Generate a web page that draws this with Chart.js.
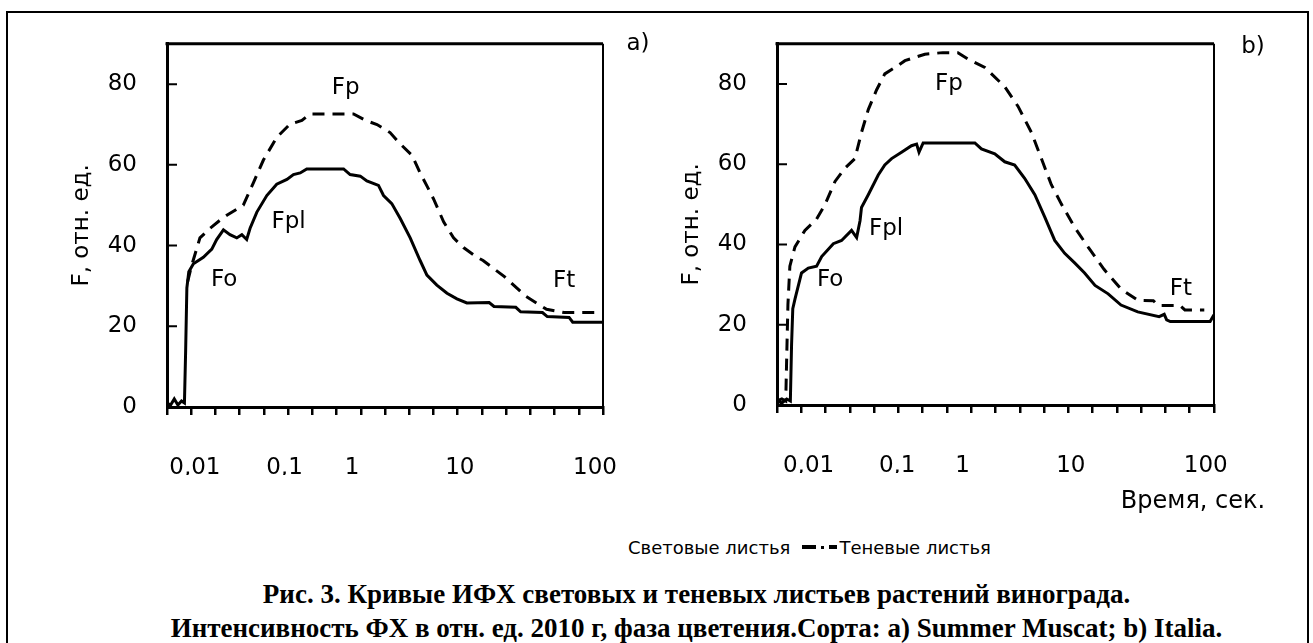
<!DOCTYPE html>
<html>
<head>
<meta charset="utf-8">
<script src="https://cdn.jsdelivr.net/npm/chart.js@4.4.0/dist/chart.umd.min.js"></script>
<style>
    body { margin: 0; background: #fff; width: 1313px; height: 643px; overflow: hidden; position: relative; font-family: "DejaVu Sans", sans-serif; color: #000; }
    #frame { position: absolute; left: 6px; top: 11px; width: 1299px; height: 700px; border: 2px solid #000; border-bottom: none; }
    #chartA { position: absolute; left: 0; top: 0; }
    #chartB { position: absolute; left: 650px; top: 0; }
    .tag { position: absolute; font-size: 23px; transform: translate(-50%, -50%); white-space: nowrap; }
    #legend { position: absolute; left: 628px; top: 533px; height: 28px; display: flex; align-items: center; font-size: 18px; white-space: nowrap; }
    #legend .bar { display: inline-block; height: 4px; background: #000; }
    #legend .dot { display: inline-block; width: 3px; height: 3px; background: #000; }
    #caption { position: absolute; left: 40px; top: 577px; width: 1313px; text-align: center; font: bold 27px "Liberation Serif", serif; line-height: 34px; white-space: nowrap; }
</style>
</head>
<body>
<div id="frame"></div>
<canvas id="chartA" width="650" height="520"></canvas>
<canvas id="chartB" width="663" height="520"></canvas>
<div class="tag" style="left:638px; top:42px;">a)</div>
<div class="tag" style="left:1253px; top:45px;">b)</div>
<div class="tag" style="left:1193px; top:500px; font-size:24px;">Время, сек.</div>
<div id="legend">
    <span>Световые листья</span>
    <span class="bar" style="width:14px; margin-left:12px;"></span>
    <span class="dot" style="margin-left:5px;"></span>
    <span class="bar" style="width:8px; margin-left:5px;"></span>
    <span style="margin-left:2px;">Теневые листья</span>
</div>
<div id="caption">Рис. 3. Кривые ИФХ световых и теневых листьев растений винограда.<br>Интенсивность ФХ в отн. ед. 2010 г, фаза цветения.Сорта: а) Summer Muscat; b) Italia.</div>

<script>
// x is measured in category steps of the original chart (19 tick marks, 0..18)
const xTickLabels = ['0,01', '0,1', '1', '10', '100'];
const xLabelPosA = [1.15, 4.85, 7.64, 12.09, 17.67];
const xLabelPosB = [1.3, 4.95, 7.64, 12.1, 17.66];
const yTicks = [0, 20, 40, 60, 80];

// a) Summer Muscat
const lightAX = [0, 0.15, 0.3, 0.45, 0.6, 0.72, 0.77, 0.82, 0.9, 1.09, 1.5, 1.85, 2.05, 2.33, 2.6, 2.88, 3.09, 3.29, 3.43, 3.71,
    4.12, 4.53, 4.95, 5.22, 5.5, 5.77, 7.29, 7.56, 7.98, 8.25, 8.73, 8.94, 9.28, 9.63, 10.04, 10.45, 10.73, 11.14, 11.56, 11.97,
    12.38, 13.3, 13.5, 14.4, 14.6, 15.5, 15.7, 16.6, 16.75, 18];
const lightAY = [1, 0.5, 2, 0.5, 1.5, 1, 14, 29.5, 33.5, 35.5, 37.1, 39.1, 41.5, 43.9, 42.7, 41.9, 42.7, 41.5, 44.3, 48.3,
    52.4, 55.2, 56.4, 57.6, 58, 59, 59, 57.6, 57.2, 56, 54.9, 52.4, 50.4, 46.7, 41.9, 36.3, 32.7, 30.2, 28.2, 26.8,
    25.8, 25.9, 24.9, 24.7, 23.6, 23.4, 22.4, 22.2, 21, 21];
const shadeAX = [0.85, 1.02, 1.36, 1.78, 2.19, 2.47, 3.15, 3.57, 3.98, 4.53, 5.08, 5.57, 5.9, 7.7, 8.25, 8.67, 9.21, 9.63, 10.11, 10.45,
    10.73, 11.0, 11.42, 11.83, 12.24, 12.8, 13.05, 13.93, 14.8, 15.67, 16.4, 18];
const shadeAY = [31, 35.1, 41.9, 44.3, 46.3, 47.5, 50, 55.6, 61.2, 66.8, 70.1, 71, 72.6, 72.6, 70.9, 70, 68, 65.2, 62.4, 58,
    54.8, 51.6, 45.9, 41.9, 39.5, 37.1, 36.3, 32.3, 27.5, 24.2, 23.4, 23.4];

// b) Italia
const lightBX = [0, 0.2, 0.4, 0.55, 0.6, 0.65, 0.74, 1.01, 1.29, 1.63, 1.84, 2.32, 2.66, 3.07, 3.28, 3.42, 3.48, 3.76, 4.17, 4.44,
    4.72, 5.13, 5.54, 5.75, 5.85, 6.02, 8.15, 8.42, 8.97, 9.38, 9.79, 10.2, 10.62, 11.03, 11.44, 11.85, 12.26, 12.67, 13.1, 13.64,
    14.17, 14.86, 15.74, 15.95, 16.05, 16.2, 17.84, 18];
const lightBY = [1, 0.5, 1.5, 1, 15, 24, 26.4, 32.9, 34.1, 34.6, 37, 40.2, 41, 43.5, 41.7, 45.9, 49.2, 52.4, 57.3, 59.8,
    61.4, 63, 64.6, 65, 63, 65.3, 65.3, 63.8, 62.6, 60.6, 59.8, 56.5, 52.4, 46.8, 41, 37.8, 35.4, 32.9, 29.8, 27.7,
    24.9, 23.2, 22, 22.6, 21.2, 20.8, 20.8, 22.5];
const shadeBX = [0, 0.2, 0.36, 0.4, 0.45, 0.53, 0.74, 1.15, 1.63, 1.98, 2.39, 2.8, 3.21, 3.48, 3.76, 4.1, 4.44, 4.86, 5.27, 5.68,
    6.09, 6.83, 7.45, 7.87, 8.56, 9.38, 9.93, 10.48, 10.89, 11.3, 11.72, 12.26, 12.81, 13.47, 14.17, 14.86, 15.5, 15.7, 16.6, 16.8, 17.6];
const shadeBY = [1, 1.5, 1, 12, 25, 34.6, 39.4, 43.5, 46.3, 50, 55.7, 59, 61.4, 67.9, 73.6, 78.5, 82.5, 84.1, 85.8, 86.6,
    87.4, 87.8, 87.8, 86.2, 84.1, 79.3, 74.4, 67.9, 61.4, 54.9, 50, 44.3, 39.4, 33.8, 28.9, 26.1, 26, 24.8, 24.8, 23.7, 23.7];

// curve labels inside the plots
const notesText = ['Fp', 'Fpl', 'Fo', 'Ft'];
const notesAX = [7.38, 5.02, 2.36, 16.4];
const notesAY = [79, 45.9, 31.4, 31.1];
const notesBX = [7.08, 4.49, 2.19, 16.64];
const notesBY = [80, 43.9, 31.2, 28.8];

const FONT = '"DejaVu Sans", sans-serif';
const FONT_SIZE = 23;

function toPoints(xs, ys) {
    return xs.map((x, i) => ({ x: x, y: ys[i] }));
}

// box around the plot, inward y ticks and the Fo/Fpl/Fp/Ft labels
const framePlugin = {
    id: 'frame',
    afterDraw(chart, args, opts) {
        const { ctx, chartArea: a, scales } = chart;
        ctx.save();
        ctx.strokeStyle = '#000';
        ctx.lineWidth = 3;
        ctx.beginPath();
        ctx.moveTo(a.left - 1.5, a.top);
        ctx.lineTo(a.right, a.top);
        ctx.stroke();
        ctx.lineWidth = 2;
        ctx.beginPath();
        ctx.moveTo(a.right, a.top);
        ctx.lineTo(a.right, a.bottom);
        ctx.stroke();
        ctx.beginPath();
        yTicks.forEach(v => {
            const y = scales.y.getPixelForValue(v);
            ctx.moveTo(a.left, y);
            ctx.lineTo(a.left + 10, y);
        });
        ctx.stroke();
        ctx.fillStyle = '#000';
        ctx.font = FONT_SIZE + 'px ' + FONT;
        ctx.textAlign = 'center';
        ctx.textBaseline = 'middle';
        opts.texts.forEach((t, i) => {
            ctx.fillText(t, scales.x.getPixelForValue(opts.xs[i]), scales.y.getPixelForValue(opts.ys[i]));
        });
        ctx.restore();
    }
};

function makeChart(id, cfg) {
    const ctx = document.getElementById(id).getContext('2d');
    return new Chart(ctx, {
        type: 'line',
        data: {
            datasets: [{
                label: 'Световые листья',
                data: toPoints(cfg.lightX, cfg.lightY),
                borderColor: '#000',
                borderWidth: 3,
                pointRadius: 0,
                tension: 0,
                fill: false
            }, {
                label: 'Теневые листья',
                data: toPoints(cfg.shadeX, cfg.shadeY),
                borderColor: '#000',
                borderWidth: 3,
                borderDash: [12, 8],
                pointRadius: 0,
                tension: 0,
                fill: false
            }]
        },
        options: {
            responsive: false,
            animation: false,
            devicePixelRatio: 1,
            events: [],
            layout: { padding: cfg.padding },
            scales: {
                x: {
                    type: 'linear',
                    position: 'bottom',
                    min: 0,
                    max: 18,
                    afterBuildTicks: s => { s.ticks = Array.from({ length: 19 }, (_, i) => ({ value: i })); },
                    afterFit: s => { s.height = 8; },
                    ticks: { display: false },
                    grid: { drawOnChartArea: false, drawTicks: true, tickLength: 8, lineWidth: 2.5, color: '#000' },
                    border: { display: true, color: '#000', width: 3 }
                },
                xl: {
                    type: 'linear',
                    position: 'bottom',
                    min: 0,
                    max: 18,
                    afterBuildTicks: s => { s.ticks = cfg.labelPos.map(v => ({ value: v })); },
                    afterFit: s => { s.height = 60; },
                    ticks: {
                        autoSkip: false,
                        maxRotation: 0,
                        padding: 31,
                        color: '#000',
                        font: { family: FONT, size: FONT_SIZE },
                        callback: (v, i) => xTickLabels[i]
                    },
                    grid: { display: false },
                    border: { display: false }
                },
                y: {
                    min: 0,
                    max: 90,
                    afterBuildTicks: s => { s.ticks = yTicks.map(v => ({ value: v })); },
                    afterFit: s => { s.width = 99; },
                    ticks: { padding: 30, color: '#000', font: { family: FONT, size: FONT_SIZE } },
                    grid: { drawOnChartArea: false, drawTicks: false },
                    border: { display: true, color: '#000', width: 3 },
                    title: {
                        display: true,
                        text: 'F, отн. ед.',
                        color: '#000',
                        padding: 0,
                        font: { family: FONT, size: FONT_SIZE }
                    }
                }
            },
            plugins: {
                legend: { display: false },
                tooltip: { enabled: false },
                frame: { texts: notesText, xs: cfg.notesX, ys: cfg.notesY }
            }
        },
        plugins: [framePlugin]
    });
}

makeChart('chartA', {
    lightX: lightAX, lightY: lightAY, shadeX: shadeAX, shadeY: shadeAY,
    labelPos: xLabelPosA, notesX: notesAX, notesY: notesAY,
    padding: { left: 68, top: 34, right: 47, bottom: 45 }
});

makeChart('chartB', {
    lightX: lightBX, lightY: lightBY, shadeX: shadeBX, shadeY: shadeBY,
    labelPos: xLabelPosB, notesX: notesBX, notesY: notesBY,
    padding: { left: 28, top: 36, right: 99, bottom: 47 }
});
</script>
</body>
</html>
